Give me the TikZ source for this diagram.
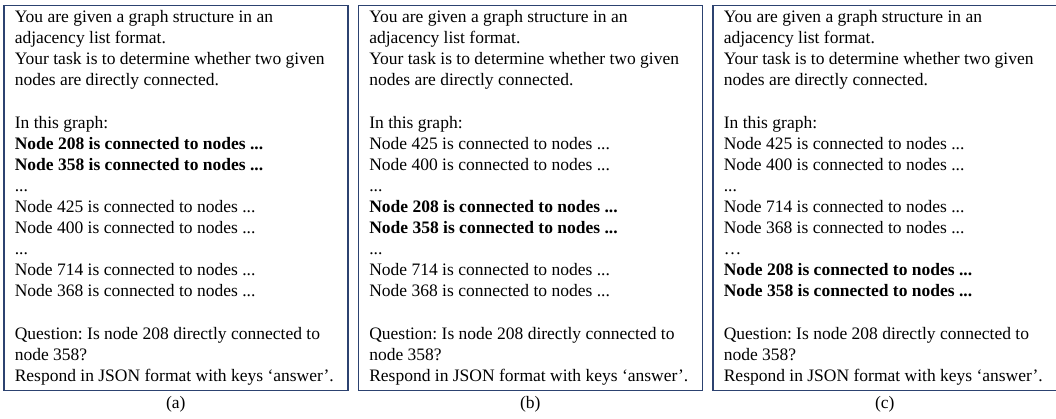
\documentclass[tikz,border=0pt]{standalone}
\usepackage{fontspec}
\setmainfont{Liberation Serif}
\usetikzlibrary{positioning}
\frenchspacing

\definecolor{boxblue}{RGB}{44,66,112}

\newcommand{\promptintro}{You are given a graph structure in an\\
adjacency list format.\\
Your task is to determine whether two given\\
nodes are directly connected.\\[21.1pt]
In this graph:\\}
\newcommand{\promptquestion}{Question: Is node 208 directly connected to\\
node 358?\\
Respond in JSON format with keys ‘answer’.}

\tikzset{
  panel/.style={draw=boxblue, line width=1.4pt, minimum width=344pt,
    minimum height=385pt, inner sep=0pt},
  prompt/.style={anchor=north west, align=left, inner sep=0pt,
    font=\fontsize{17.5}{21.1}\selectfont},
  caption/.style={inner sep=0pt, font=\fontsize{17.5}{21.1}\selectfont}
}

\begin{document}
\begin{tikzpicture}[x=1pt,y=-1pt]
\useasboundingbox (0,0) rectangle (1056,419);
\node [panel] (pa) at (175.8,198) {};
\node [panel] (pb) at (530.3,198) {};
\node [panel] (pc) at (884.8,198) {};

\node [prompt] (ta) at ([xshift=11.5pt,yshift=-5.4pt]pa.north west) {\promptintro
\textbf{Node 208 is connected to nodes ...}\\
\textbf{Node 358 is connected to nodes ...}\\
...\\
Node 425 is connected to nodes ...\\
Node 400 is connected to nodes ...\\
...\\
Node 714 is connected to nodes ...\\
Node 368 is connected to nodes ...\\[21.1pt]
\promptquestion};
\node [prompt] (tb) at ([xshift=11.5pt,yshift=-5.4pt]pb.north west) {\promptintro
Node 425 is connected to nodes ...\\
Node 400 is connected to nodes ...\\
...\\
\textbf{Node 208 is connected to nodes ...}\\
\textbf{Node 358 is connected to nodes ...}\\
...\\
Node 714 is connected to nodes ...\\
Node 368 is connected to nodes ...\\[21.1pt]
\promptquestion};
\node [prompt] (tc) at ([xshift=11.5pt,yshift=-5.4pt]pc.north west) {\promptintro
Node 425 is connected to nodes ...\\
Node 400 is connected to nodes ...\\
...\\
Node 714 is connected to nodes ...\\
Node 368 is connected to nodes ...\\
…\\
\textbf{Node 208 is connected to nodes ...}\\
\textbf{Node 358 is connected to nodes ...}\\[21.1pt]
\promptquestion};

\node [caption, below=4.5pt of pa] (la) {(a)};
\node [caption, below=4.5pt of pb] (lb) {(b)};
\node [caption, below=4.5pt of pc] (lc) {(c)};
\end{tikzpicture}
\end{document}
